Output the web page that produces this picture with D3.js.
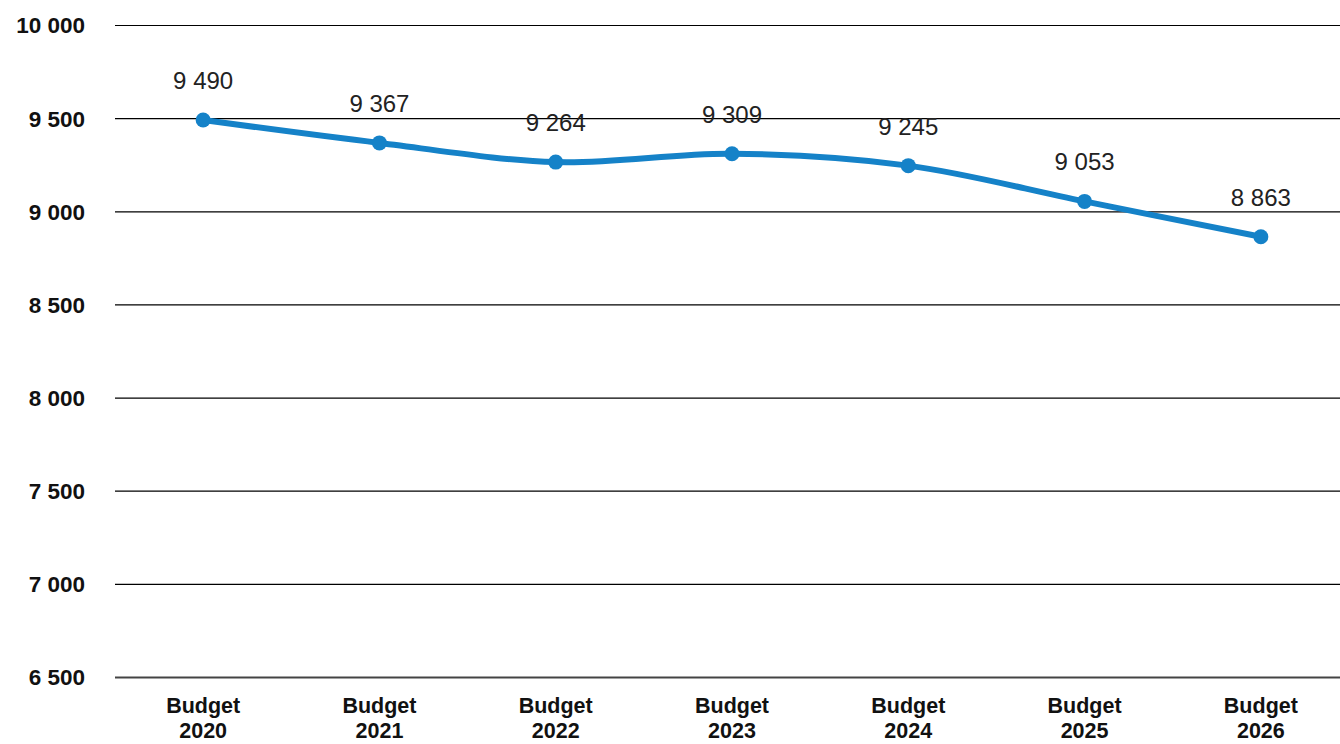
<!DOCTYPE html>
<html>
<head>
<meta charset="utf-8">
<script src="https://cdn.jsdelivr.net/npm/d3@7"></script>
<style>
  html, body { margin: 0; padding: 0; background: #fff; }
  svg { display: block; font-family: "Liberation Sans", Arial, sans-serif; }
</style>
</head>
<body>
<svg id="chart" width="1340" height="744"></svg>
<script>
// Budget figures per year
const categories = ["2020", "2021", "2022", "2023", "2024", "2025", "2026"];
const categoryPrefix = "Budget";
const values = [9490, 9367, 9264, 9309, 9245, 9053, 8863];
const yTicks = [6500, 7000, 7500, 8000, 8500, 9000, 9500, 10000];

const W = 1340, H = 744;
const margin = { left: 115, right: -9, top: 25, bottom: 67 };

const svg = d3.select("#chart");

const x = d3.scaleBand()
  .domain(categories)
  .range([margin.left, W - margin.right])
  .paddingInner(0).paddingOuter(0);

const y = d3.scaleLinear()
  .domain([6500, 10000])
  .range([H - margin.bottom, margin.top]);

// Thousands separated by a space
const spaceFmt = v => d3.format(",")(v).replace(/,/g, " ");

// Horizontal gridlines and value axis labels
const yAxis = d3.axisLeft(y)
  .tickValues(yTicks)
  .tickSize(-(W - margin.left))
  .tickPadding(30)
  .tickFormat(spaceFmt);

const gy = svg.append("g")
  .attr("transform", `translate(${margin.left},0)`)
  .call(yAxis);
gy.select(".domain").remove();
gy.selectAll(".tick line")
  .attr("stroke", "#000")
  .attr("stroke-width", 1.2);
gy.selectAll(".tick text")
  .attr("fill", "#111")
  .attr("font-size", 22.5)
  .attr("font-weight", "bold")
  .attr("x", -30)
  .attr("dy", "0.35em");
gy.selectAll(".tick")
  .filter(d => d === 6500)
  .select("line")
  .attr("stroke", "#444")
  .attr("stroke-width", 2);

// Category labels, two lines each
const xAxis = d3.axisBottom(x).tickSize(0).tickFormat("");
const gx = svg.append("g")
  .attr("transform", `translate(0,${H - margin.bottom})`)
  .call(xAxis);
gx.select(".domain").remove();
gx.selectAll(".tick").each(function(d) {
  const g = d3.select(this);
  const style = t => t
    .attr("text-anchor", "middle")
    .attr("fill", "#111")
    .attr("font-size", 21.5)
    .attr("font-weight", "bold");
  g.append("text").call(style).attr("x", 0).attr("y", 36).text(categoryPrefix);
  g.append("text").call(style).attr("x", 0).attr("y", 61).text(d);
});

const data = categories.map((c, i) => ({ c, v: values[i] }));
const cx = d => x(d.c) + x.bandwidth() / 2;

// Smoothed line
const line = d3.line()
  .x(cx)
  .y(d => y(d.v))
  .curve(d3.curveCardinal.tension(0));

svg.append("path")
  .datum(data)
  .attr("fill", "none")
  .attr("stroke", "#1582c8")
  .attr("stroke-width", 6)
  .attr("stroke-linejoin", "round")
  .attr("d", line);

svg.append("g").selectAll("circle")
  .data(data)
  .join("circle")
  .attr("cx", cx)
  .attr("cy", d => y(d.v))
  .attr("r", 7.5)
  .attr("fill", "#1582c8");

// Value labels
svg.append("g").selectAll("text")
  .data(data)
  .join("text")
  .attr("x", cx)
  .attr("y", d => y(d.v) - 31)
  .attr("text-anchor", "middle")
  .attr("font-size", 24)
  .attr("fill", "#222")
  .text(d => spaceFmt(d.v));
</script>
</body>
</html>
